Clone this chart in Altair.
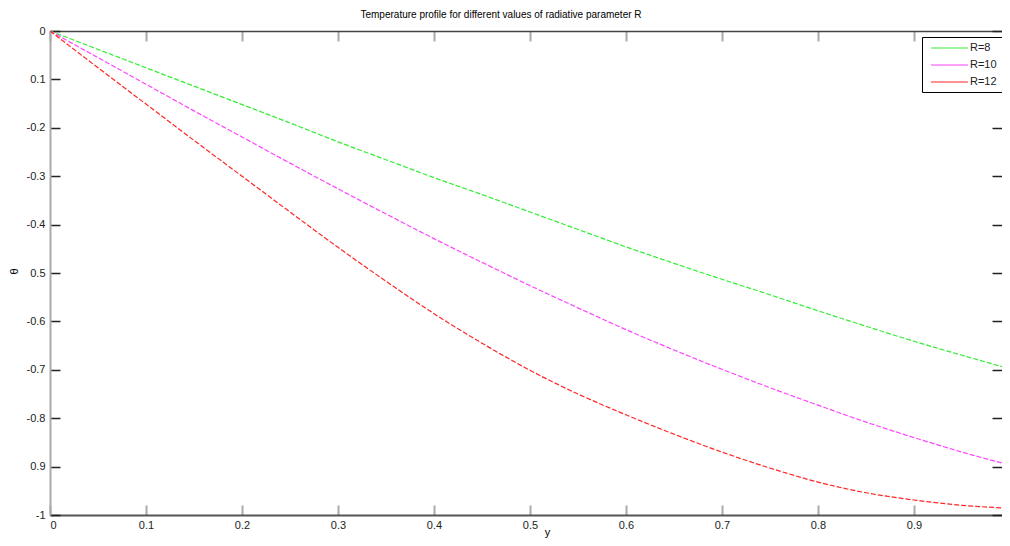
import altair as alt
import pandas as pd

# ---- data ----
x_vals = [0.00, 0.05, 0.10, 0.15, 0.20, 0.25, 0.30, 0.35, 0.40, 0.45, 0.50,
          0.55, 0.60, 0.65, 0.70, 0.75, 0.80, 0.85, 0.90, 0.95, 1.00]
theta_r8 = [0.000, -0.038, -0.076, -0.114, -0.152, -0.190, -0.229, -0.266, -0.303, -0.338, -0.374,
            -0.410, -0.446, -0.480, -0.513, -0.545, -0.578, -0.610, -0.641, -0.670, -0.698]
theta_r10 = [0.000, -0.055, -0.110, -0.165, -0.219, -0.273, -0.326, -0.378, -0.429, -0.478, -0.526,
             -0.572, -0.617, -0.659, -0.699, -0.737, -0.773, -0.808, -0.840, -0.870, -0.897]
theta_r12 = [0.000, -0.076, -0.151, -0.226, -0.300, -0.374, -0.447, -0.517, -0.584, -0.645, -0.701,
             -0.750, -0.793, -0.833, -0.870, -0.903, -0.932, -0.954, -0.969, -0.980, -0.986]

series_names = ["R=8", "R=10", "R=12"]
series_colors = ["#33ee33", "#ff44ff", "#ff2626"]

x_tick_values = [0, 0.1, 0.2, 0.3, 0.4, 0.5, 0.6, 0.7, 0.8, 0.9]
y_tick_values = [0, -0.1, -0.2, -0.3, -0.4, -0.5, -0.6, -0.7, -0.8, -0.9, -1.0]
y_tick_labels = ["0", "0.1", "-0.2", "-0.3", "-0.4", "0.5", "-0.6", "-0.7", "-0.8", "0.9", "-1"]

title_text = "Temperature profile for different values of radiative parameter R"

rows = []
for name, vals in zip(series_names, [theta_r8, theta_r10, theta_r12]):
    for xv, tv in zip(x_vals, vals):
        rows.append({"x": xv, "theta": tv, "series": name})
df = pd.DataFrame(rows)

# the reference is cropped at its right edge: the visible x range stops just short of 1
X_VISIBLE_MAX = 0.9917
W, H = 952, 484
FONT = "Liberation Sans"

x_scale = alt.Scale(domain=[0, X_VISIBLE_MAX], nice=False, zero=False)
y_scale = alt.Scale(domain=[-1, 0], nice=False, zero=False)

y_label_expr = "[" + ",".join("'" + s + "'" for s in y_tick_labels) + "][-round(datum.value*10)]"
x_label_expr = "datum.value == 0 ? '0' : format(datum.value, '.1f')"

color = alt.Color(
    "series:N",
    scale=alt.Scale(domain=series_names, range=series_colors),
    legend=alt.Legend(
        orient="none", legendX=872, legendY=6, title=None,
        fillColor="white", strokeColor="black", padding=5,
        symbolType="M-0.4,0H7", symbolSize=100, symbolStrokeWidth=1.2,
        symbolDash=[1, 0], labelFontSize=11, labelOffset=31, rowPadding=6,
        labelColor="#222", labelFont=FONT,
    ),
)

lines = alt.Chart(df).mark_line(strokeDash=[5, 2], strokeWidth=1.2, interpolate="monotone", clip=True).encode(
    x=alt.X("x:Q", scale=x_scale, axis=alt.Axis(
        orient="bottom", values=x_tick_values, labelExpr=x_label_expr,
        ticks=False, domain=True, domainColor="#555", domainWidth=2, grid=False,
        labelFontSize=11, labelPadding=4, labelColor="#222", labelFont=FONT,
        title="y", titleFontSize=11, titleFontWeight="normal", titleX=497, titleY=20,
        titleBaseline="alphabetic", titleFont=FONT,
    )),
    y=alt.Y("theta:Q", scale=y_scale, axis=alt.Axis(
        orient="left", values=y_tick_values, labelExpr=y_label_expr,
        ticks=False, domain=True, domainColor="#aaa", domainWidth=2, grid=False,
        labelFontSize=11, labelPadding=5, labelColor="#222", labelFont=FONT,
        title="θ", titleFontSize=11, titleFontWeight="normal", titleX=-31, titleY=240, titleFont=FONT,
    )),
    color=color,
)

# inward ticks at the bottom (up) and on the left (right)
ticks_a = alt.Chart(df).mark_point(opacity=0, clip=True).encode(
    x=alt.X("x:Q", scale=x_scale, title=None, axis=alt.Axis(
        orient="top", offset=-H, values=x_tick_values, labels=False, domain=False, grid=False,
        ticks=True, tickSize=10, tickColor="#aaa", tickWidth=2,
    )),
    y=alt.Y("theta:Q", scale=y_scale, title=None, axis=alt.Axis(
        orient="right", offset=-W, values=y_tick_values, labels=False, domain=False, grid=False,
        ticks=True, tickSize=10, tickColor="#222", tickWidth=1.5,
    )),
)

# inward ticks at the top (down) and on the right (left), plus the top border
ticks_b = alt.Chart(df).mark_point(opacity=0, clip=True).encode(
    x=alt.X("x:Q", scale=x_scale, title=None, axis=alt.Axis(
        orient="bottom", offset=-H, values=x_tick_values, labels=False, grid=False,
        domain=True, domainColor="#444", domainWidth=1.5,
        ticks=True, tickSize=10, tickColor="#aaa", tickWidth=2,
    )),
    y=alt.Y("theta:Q", scale=y_scale, title=None, axis=alt.Axis(
        orient="left", offset=-W, values=y_tick_values, labels=False, grid=False,
        domain=False, ticks=True, tickSize=10, tickColor="#222", tickWidth=1.5,
    )),
)

chart = alt.layer(ticks_a, ticks_b, lines).resolve_axis(
    x="independent", y="independent"
).properties(
    width=W, height=H,
    title=alt.Title(title_text, fontSize=10, fontWeight="normal", color="black",
                    anchor="middle", frame="group", offset=5, font=FONT, dx=-25),
    autosize=alt.AutoSizeParams(type="none"),
    padding={"left": 42, "top": 23, "right": 0, "bottom": 23},
).configure_view(strokeWidth=0).configure(font=FONT, background="white")

chart.save("out.html", embed_options={"renderer": "svg", "actions": False})
